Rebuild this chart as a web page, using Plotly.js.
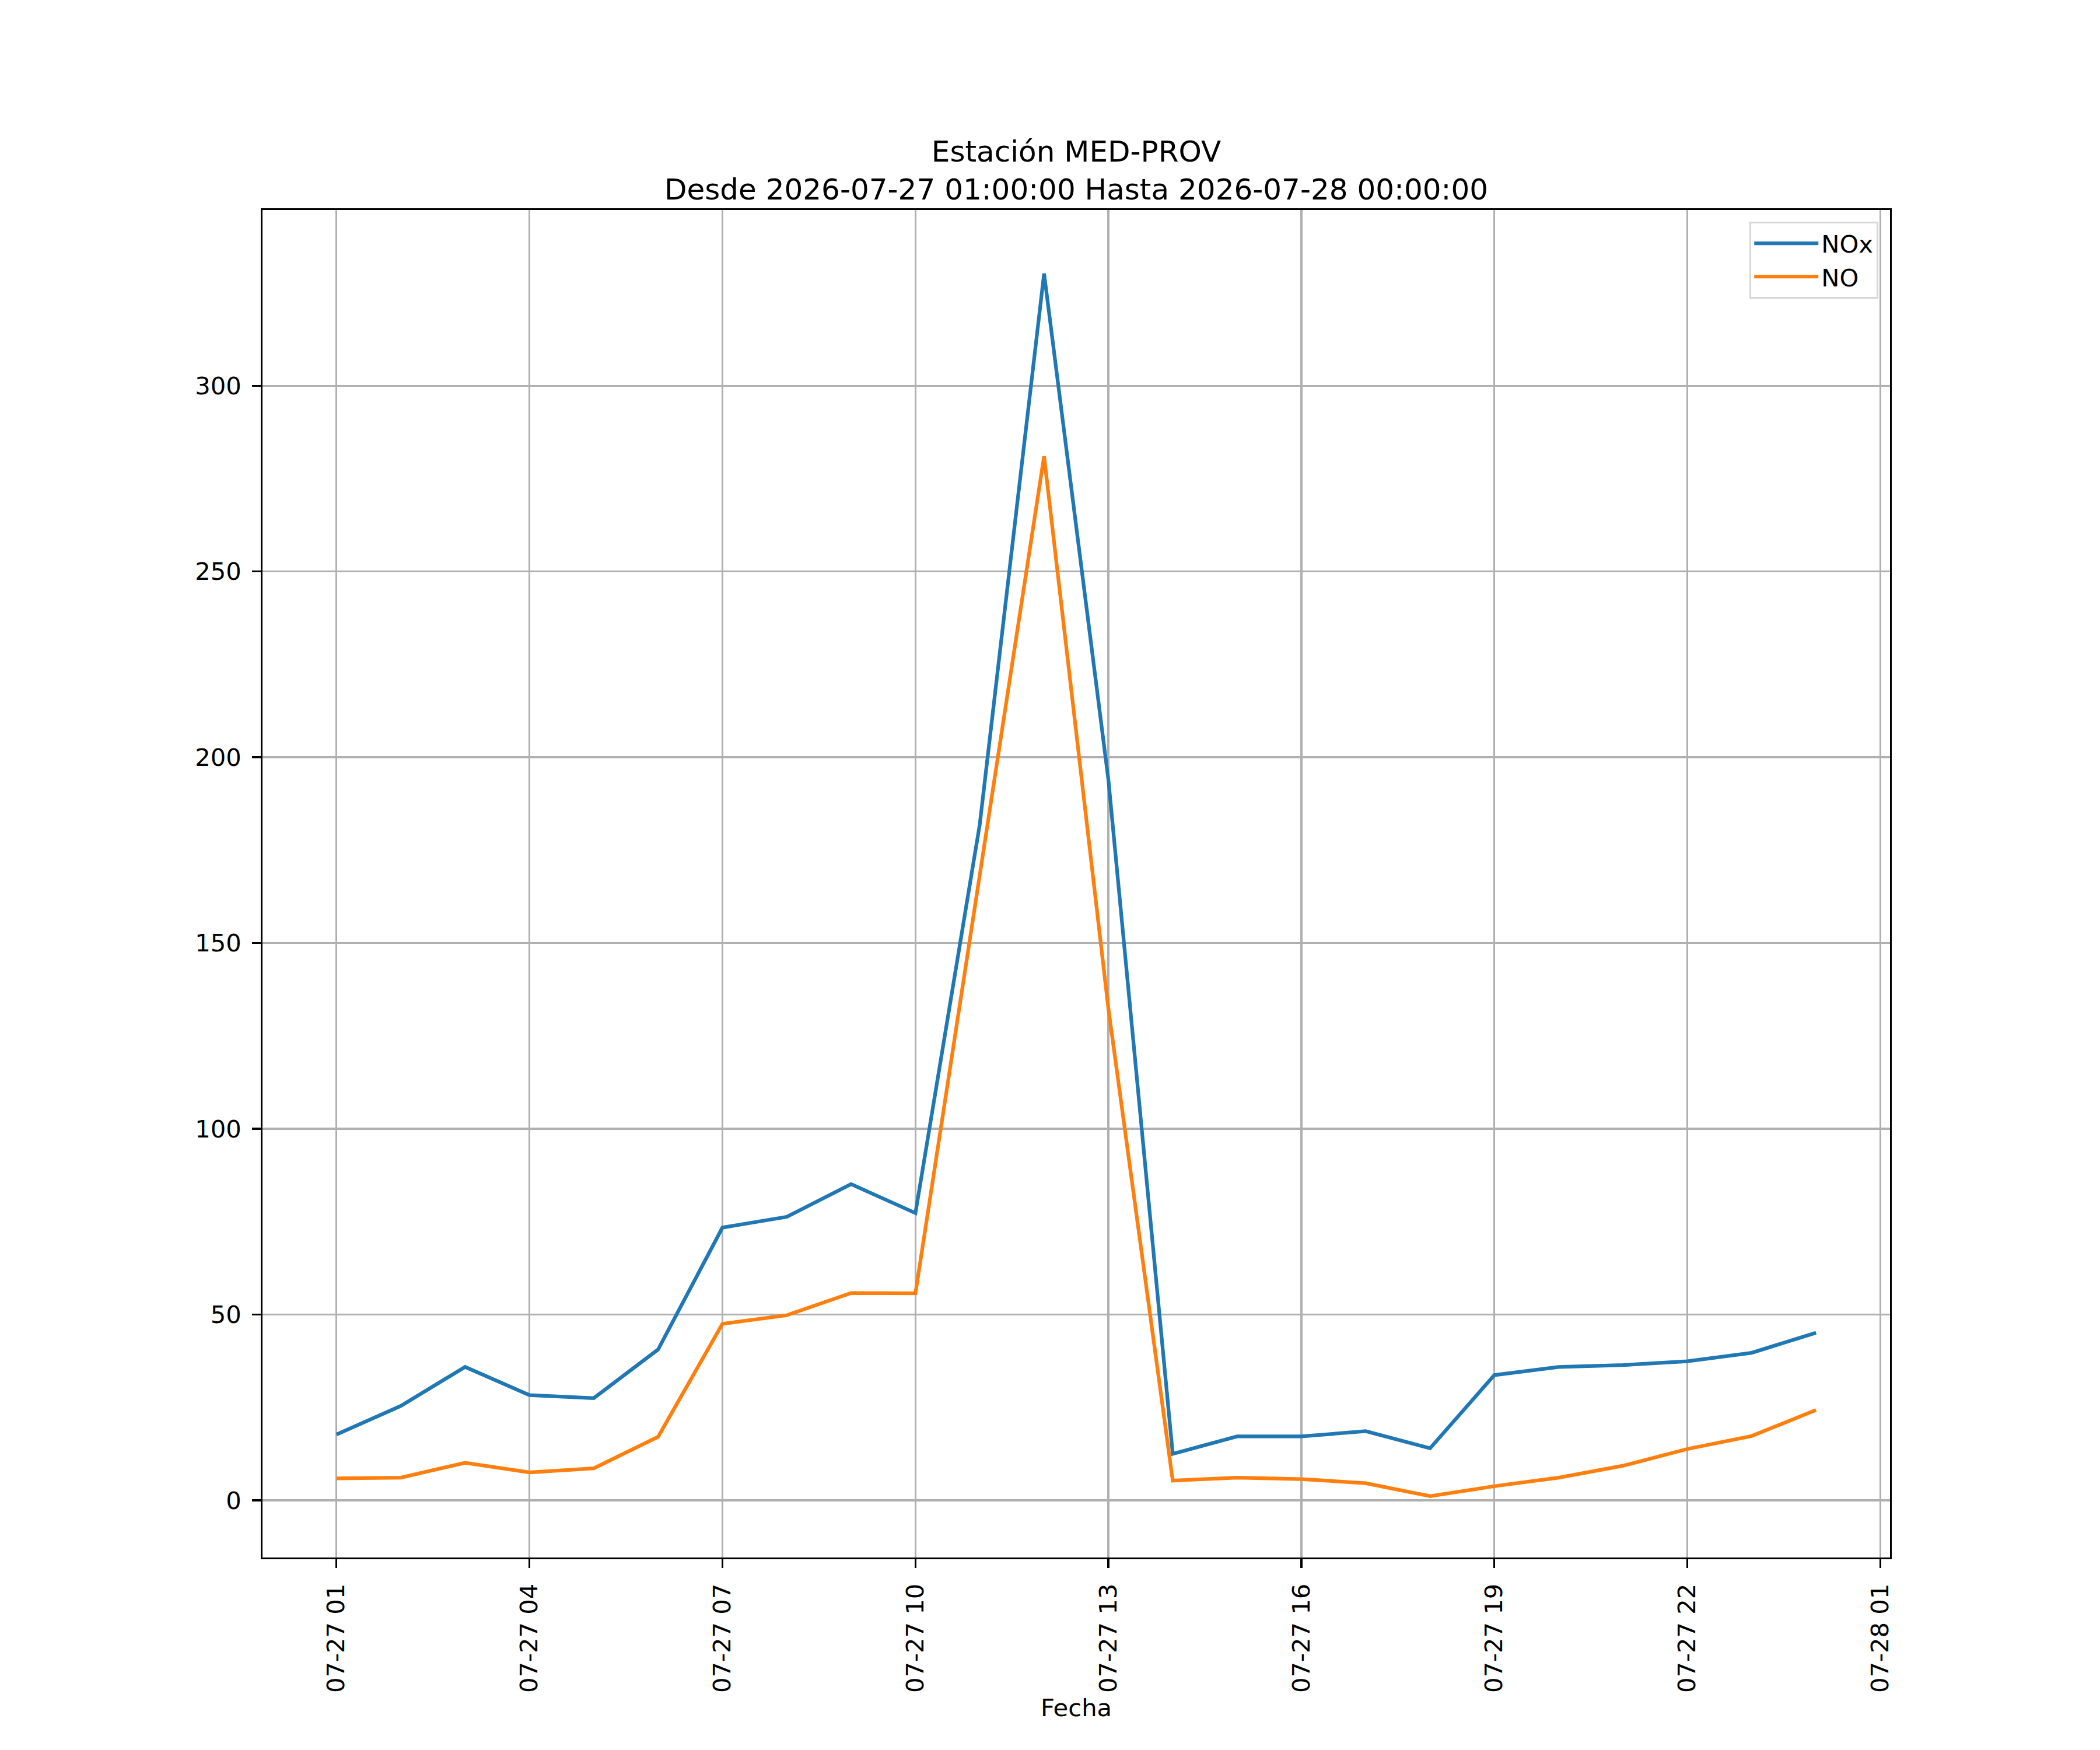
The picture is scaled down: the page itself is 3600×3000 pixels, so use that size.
<!DOCTYPE html>
<html>
<head>
<meta charset="utf-8">
<script src="https://cdn.plot.ly/plotly-3.0.1.min.js"></script>
<style>html,body{margin:0;padding:0;background:#fff;}</style>
</head>
<body>
<div id="chart" style="width:3600px;height:3000px;"></div>
<script>
const times = [
  "2026-07-27 01:00","2026-07-27 02:00","2026-07-27 03:00","2026-07-27 04:00",
  "2026-07-27 05:00","2026-07-27 06:00","2026-07-27 07:00","2026-07-27 08:00",
  "2026-07-27 09:00","2026-07-27 10:00","2026-07-27 11:00","2026-07-27 12:00",
  "2026-07-27 13:00","2026-07-27 14:00","2026-07-27 15:00","2026-07-27 16:00",
  "2026-07-27 17:00","2026-07-27 18:00","2026-07-27 19:00","2026-07-27 20:00",
  "2026-07-27 21:00","2026-07-27 22:00","2026-07-27 23:00","2026-07-28 00:00"
];
const noxValues = [17.7, 25.4, 35.9, 28.3, 27.5, 40.6, 73.4, 76.3, 85.1, 77.3, 181.9, 330.2,
                   193.9, 12.5, 17.2, 17.2, 18.6, 14.0, 33.7, 35.9, 36.4, 37.4, 39.7, 45.1];
const noValues  = [5.9, 6.1, 10.1, 7.5, 8.6, 17.1, 47.5, 49.8, 55.8, 55.7, 168.3, 281.0,
                   132.3, 5.3, 6.1, 5.7, 4.6, 1.1, 3.8, 6.1, 9.3, 13.8, 17.3, 24.3];
const seriesNames = ["NOx", "NO"];
const titleLines = ["Estación MED-PROV", "Desde 2026-07-27 01:00:00 Hasta 2026-07-28 00:00:00"];
const xLabel = "Fecha";

const FONT = "DejaVu Sans, sans-serif";
const FS = 41.7;
const LW = 3.33;

const traces = [
  {x: times, y: noxValues, name: seriesNames[0], type: "scatter", mode: "lines",
   line: {color: "#1f77b4", width: 6.25}},
  {x: times, y: noValues, name: seriesNames[1], type: "scatter", mode: "lines",
   line: {color: "#ff7f0e", width: 6.25}}
];

const layout = {
  width: 3600, height: 3000,
  paper_bgcolor: "#ffffff", plot_bgcolor: "#ffffff",
  font: {family: FONT, size: FS, color: "#000000"},
  margin: {l: 450, r: 360, t: 360, b: 330, pad: 0},
  showlegend: true,
  title: {
    text: titleLines.join("<br>"),
    font: {family: FONT, size: 50, color: "#000000"},
    x: 0.5, xref: "paper", xanchor: "center",
    y: 1 - 277 / 3000, yref: "container", yanchor: "top"
  },
  xaxis: {
    type: "date",
    range: ["2026-07-26 23:51", "2026-07-28 01:09"],
    tick0: "2026-07-27 01:00", dtick: 3 * 3600000,
    tickformat: "%m-%d %H",
    tickangle: -90,
    ticks: "outside", ticklen: 14.6, tickwidth: LW, tickcolor: "#000000",
    ticklabelstandoff: 10,
    showgrid: true, gridcolor: "#b0b0b0", gridwidth: LW,
    showline: true, linecolor: "#000000", linewidth: LW, mirror: true,
    zeroline: false, automargin: false,
    tickfont: {family: FONT, size: FS, color: "#000000"},
    title: {text: xLabel, font: {family: FONT, size: FS, color: "#000000"}, standoff: 12}
  },
  yaxis: {
    range: [-15.4, 347.3],
    tick0: 0, dtick: 50,
    ticks: "outside", ticklen: 14.6, tickwidth: LW, tickcolor: "#000000",
    ticklabelstandoff: 10,
    showgrid: true, gridcolor: "#b0b0b0", gridwidth: LW,
    showline: true, linecolor: "#000000", linewidth: LW, mirror: true,
    zeroline: false, automargin: false,
    tickfont: {family: FONT, size: FS, color: "#000000"}
  },
  legend: {
    x: 0.9928, xanchor: "right", xref: "paper",
    y: 0.9913, yanchor: "top", yref: "paper",
    bgcolor: "rgba(255,255,255,0.8)",
    bordercolor: "#d6d6d6", borderwidth: LW,
    font: {family: FONT, size: FS, color: "#000000"},
    itemwidth: 110,
    tracegroupgap: 0
  }
};

Plotly.newPlot("chart", traces, layout, {displayModeBar: false, staticPlot: true});
</script>
</body>
</html>
